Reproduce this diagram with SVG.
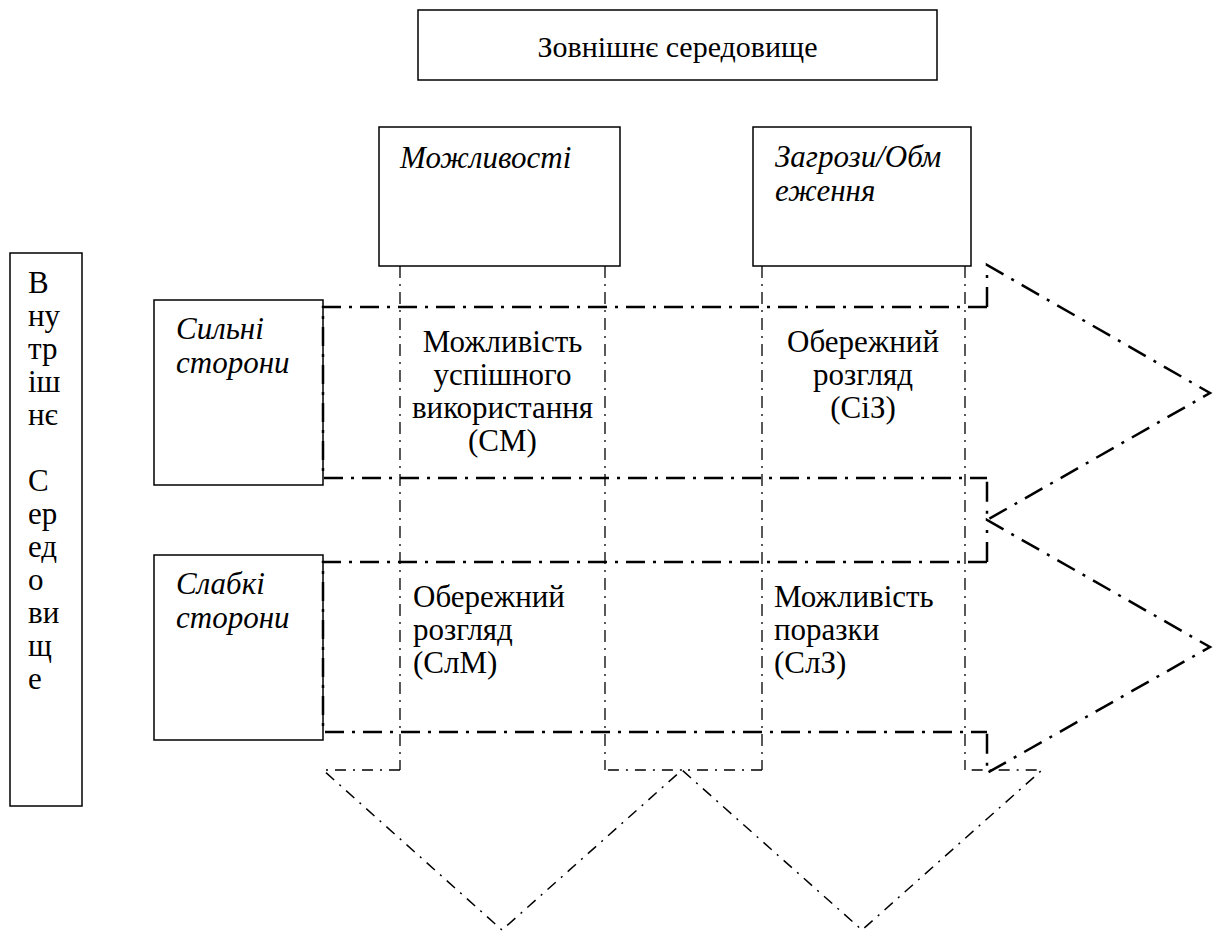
<svg xmlns="http://www.w3.org/2000/svg" width="1220" height="933" viewBox="0 0 1220 933">
<style>
.box{fill:#fff;stroke:#000;stroke-width:1.5}
.t{font-family:"Liberation Serif","Times New Roman",serif;font-size:31px;fill:#000}
.i{font-style:italic}
.c{text-anchor:middle}
.hl{fill:none;stroke:#000;stroke-width:2.5;stroke-dasharray:19 8 3 8}
.vl{fill:none;stroke:#000;stroke-width:1.3;stroke-dasharray:12 6 2 6}
.dg{fill:none;stroke:#000;stroke-width:2.5;stroke-dasharray:20 9 3 9}
.db{fill:none;stroke:#000;stroke-width:1.5;stroke-dasharray:11 7 2 7}
</style>
<rect width="1220" height="933" fill="#fff"/>
<g id="node-external">
<rect class="box" x="418" y="10" width="519" height="70"/>
<text class="t c" x="677.5" y="57" style="font-size:30px">Зовнішнє середовище</text>
</g>
<g id="node-internal">
<rect class="box" x="10" y="253" width="72" height="553"/>
<text class="t" x="28" y="293">В</text>
<text class="t" x="28" y="326">ну</text>
<text class="t" x="28" y="359">тр</text>
<text class="t" x="28" y="392">іш</text>
<text class="t" x="28" y="425">нє</text>
<text class="t" x="28" y="491">С</text>
<text class="t" x="28" y="524">ер</text>
<text class="t" x="28" y="557">ед</text>
<text class="t" x="28" y="590">о</text>
<text class="t" x="28" y="623">ви</text>
<text class="t" x="28" y="656">щ</text>
<text class="t" x="28" y="689">е</text>
</g>
<g id="node-opportunities">
<rect class="box" x="379" y="127" width="241" height="139"/>
<text class="t i" x="400" y="168">Можливості</text>
</g>
<g id="node-threats">
<rect class="box" x="753" y="127" width="218" height="139"/>
<text class="t i" x="775" y="167">Загрози/Обм</text>
<text class="t i" x="775" y="201">еження</text>
</g>
<g id="node-strengths">
<rect class="box" x="154" y="300" width="169" height="185"/>
<text class="t i" x="176" y="339">Сильні</text>
<text class="t i" x="176" y="373">сторони</text>
</g>
<g id="node-weaknesses">
<rect class="box" x="154" y="555" width="169" height="185"/>
<text class="t i" x="176" y="594">Слабкі</text>
<text class="t i" x="176" y="628">сторони</text>
</g>
<g id="connectors">
<polyline class="hl" points="987,307 323,307 323,478 987,478"/>
<polyline class="dg" points="987,307 987,265 1210,393 987,520 987,478"/>
<polyline class="hl" points="987,562 323,562 323,732 987,732"/>
<polyline class="dg" points="987,562 987,520 1210,647 987,773 987,732"/>
<polyline class="vl" points="400,266 400,770"/>
<polyline class="vl" points="605,266 605,770"/>
<polyline class="db" points="400,770 323,770 502,930 682,770 605,770"/>
<polyline class="vl" points="762,266 762,770"/>
<polyline class="vl" points="965,266 965,770"/>
<polyline class="db" points="762,770 682,770 862,930 1042,770 965,770"/>
</g>
<g id="labels">
<text class="t c" x="502.5" y="352">Можливість</text>
<text class="t c" x="502.5" y="385">успішного</text>
<text class="t c" x="502.5" y="418">використання</text>
<text class="t c" x="502.5" y="451">(СМ)</text>
<text class="t c" x="863" y="352">Обережний</text>
<text class="t c" x="863" y="385">розгляд</text>
<text class="t c" x="863" y="418">(СіЗ)</text>
<text class="t" x="413" y="607">Обережний</text>
<text class="t" x="413" y="640">розгляд</text>
<text class="t" x="413" y="673">(СлМ)</text>
<text class="t" x="774" y="607">Можливість</text>
<text class="t" x="774" y="640">поразки</text>
<text class="t" x="774" y="673">(СлЗ)</text>
</g>
</svg>
